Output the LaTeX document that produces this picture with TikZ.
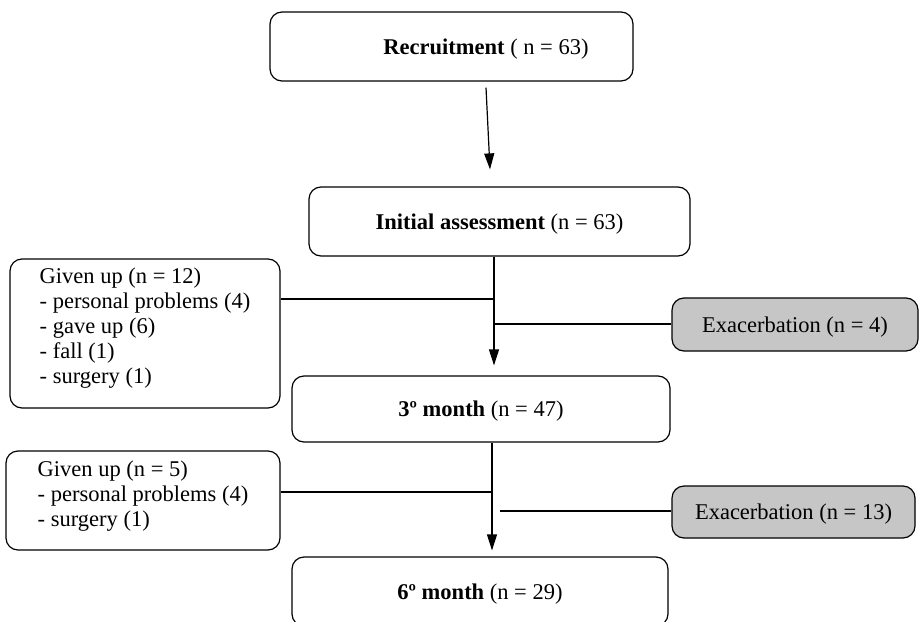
\documentclass[tikz,border=0pt]{standalone}
\usepackage{fontspec}
\setmainfont{Liberation Serif}
\usetikzlibrary{arrows.meta}

\tikzset{
  box/.style={draw, line width=1.2pt, rounded corners=12pt, fill=white,
    inner sep=0pt, text depth=0pt, font=\fontsize{22.5}{25}\selectfont},
  greybox/.style={box, fill=gray!45},
  arrow/.style={line width=1.2pt, -{Triangle[length=16pt,width=10pt]}},
  link/.style={line width=1.2pt}
}

\begin{document}
\begin{tikzpicture}[x=1pt,y=-1pt]
\clip (0,0) rectangle (920,621);

\node[box, minimum width=363pt, minimum height=69pt] (recruit) at (451.5,46.5)
  {\hspace*{69pt}\textbf{Recruitment} ( n = 63)};
\node[box, minimum width=381pt, minimum height=69pt] (initial) at (499.5,221.5)
  {\textbf{Initial assessment} (n = 63)};
\node[box, minimum width=270pt, minimum height=149pt, align=left, text depth=15pt] (giveup1) at (145,333.5)
  {Given up (n = 12)\\- personal problems (4)\\- gave up (6)\\- fall (1)\\- surgery (1)};
\node[greybox, minimum width=246pt, minimum height=53pt] (exac1) at (795,324.5)
  {Exacerbation (n = 4)};
\node[box, minimum width=378pt, minimum height=66pt] (third) at (481,409)
  {\textbf{3º month} (n = 47)};
\node[box, minimum width=274pt, minimum height=99pt, align=left, text depth=13pt] (giveup2) at (143,500.5)
  {Given up (n = 5)\\- personal problems (4)\\- surgery (1)};
\node[greybox, minimum width=243pt, minimum height=52pt] (exac2) at (793.5,512)
  {Exacerbation (n = 13)};
\node[box, minimum width=376pt, minimum height=69pt] (sixth) at (480,591.5)
  {\textbf{6º month} (n = 29)};

\coordinate (j1) at (494,299);
\coordinate (j2) at (494,324);
\coordinate (j3) at (492,492);
\coordinate (j4) at (500,511);

\draw[arrow] ([shift={(34.5,6)}]recruit.south) -- ([shift={(-9.5,-17)}]initial.north);
\draw[arrow, shorten >=10pt] (initial.south -| j1) -- (third.north -| j1);
\draw[link] (giveup1.east |- j1) -- (j1);
\draw[link] (exac1.west |- j2) -- (j2);
\draw[arrow, shorten >=6pt] (third.south -| j3) -- (sixth.north -| j3);
\draw[link] (giveup2.east |- j3) -- (j3);
\draw[link] (exac2.west |- j4) -- (j4);
\end{tikzpicture}
\end{document}
